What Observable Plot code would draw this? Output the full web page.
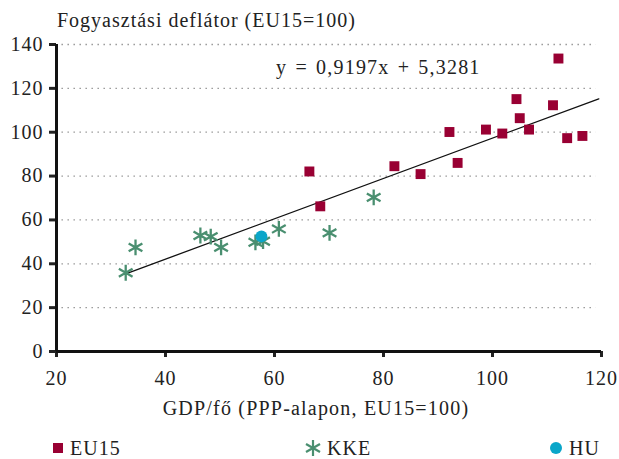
<!DOCTYPE html>
<html><head><meta charset="utf-8">
<script src="https://cdn.jsdelivr.net/npm/d3@7"></script>
<script src="https://cdn.jsdelivr.net/npm/@observablehq/plot@0.6"></script>
<style>
body{margin:0;background:#fff;font-family:"Liberation Serif",serif;color:#222;}
#wrap{position:relative;width:619px;height:459px;}
.lbl{position:absolute;white-space:nowrap;font-size:20px;line-height:1;letter-spacing:1px;}
#chart{position:absolute;left:0;top:0;}
</style></head>
<body><div id="wrap"><div id="chart"></div>
<div class="lbl" id="title" style="left:57px;top:10px;">Fogyasztási deflátor (EU15=100)</div>
<div class="lbl" id="eq" style="left:276px;top:57px;letter-spacing:1.2px;word-spacing:2px;">y = 0,9197x + 5,3281</div>
<div class="lbl" id="xlab" style="left:0;width:632px;text-align:center;top:398px;letter-spacing:1.2px;">GDP/fő (PPP-alapon, EU15=100)</div>
<div id="legend"></div>
</div>
<script>
const eu15X = [66.4, 68.4, 82.0, 86.8, 92.1, 93.6, 98.8, 101.8, 104.4, 105.0, 106.7, 111.1, 112.1, 113.7, 116.5];
const eu15Y = [82.1, 66.2, 84.5, 80.9, 100.1, 86.0, 101.2, 99.4, 115.1, 106.4, 101.2, 112.3, 133.6, 97.3, 98.3];
const kkeX = [32.7, 34.5, 46.4, 48.3, 50.2, 56.5, 57.9, 60.8, 70.1, 78.2];
const kkeY = [35.9, 47.5, 52.9, 52.4, 47.5, 49.8, 50.3, 55.9, 54.1, 70.3];
const huX = [57.6];
const huY = [52.5];
const slope = 0.9197, intercept = 5.3281;
const trendX = [32.7, 119.5];
const xTicks = [20, 40, 60, 80, 100, 120];
const yTicks = [0, 20, 40, 60, 80, 100, 120, 140];
const colors = {EU15: "#990033", KKE: "#4a8f70", HU: "#0aa6c9"};

const eu = eu15X.map((x, i) => ({x, y: eu15Y[i]}));
const kke = kkeX.map((x, i) => ({x, y: kkeY[i]}));
const hu = huX.map((x, i) => ({x, y: huY[i]}));
const trend = trendX.map(x => ({x, y: slope * x + intercept}));

const chart = Plot.plot({
  width: 619, height: 459,
  marginLeft: 56, marginRight: 18, marginTop: 44, marginBottom: 108,
  style: {fontFamily: "Liberation Serif, serif", fontSize: "20px", letterSpacing: "1px", color: "#222", background: "white"},
  x: {domain: [20, 120], ticks: xTicks},
  y: {domain: [0, 140], ticks: yTicks},
  marks: [
    Plot.ruleY(yTicks.filter(d => d > 0), {stroke: "#999", strokeDasharray: "1.5,4.5", strokeWidth: 1.3, x1: 21, x2: 119}),
    Plot.axisX({ticks: xTicks, tickSize: 6, tickPadding: 13, strokeWidth: 3, label: null, tickFormat: d => d, fill: "#222"}),
    Plot.axisY({ticks: yTicks, tickSize: 7, tickPadding: 6, strokeWidth: 3, label: null, tickFormat: d => d, fill: "#222"}),
    Plot.ruleY([0], {stroke: "#111", strokeWidth: 3}),
    Plot.ruleX([20], {stroke: "#111", strokeWidth: 3}),
    Plot.line(trend, {x: "x", y: "y", stroke: "#111", strokeWidth: 1.3}),
    Plot.dot(eu, {x: "x", y: "y", symbol: "square", r: 5.6, fill: colors.EU15, stroke: "none"}),
    Plot.dot(kke, {x: "x", y: "y", symbol: "asterisk", r: 7.5, stroke: colors.KKE, strokeWidth: 2.3}),
    Plot.dot(hu, {x: "x", y: "y", symbol: "circle", r: 6, fill: colors.HU, stroke: "none"})
  ]
});
document.getElementById("chart").appendChild(chart);

const legendItems = [
  {name: "EU15", sym: "square", left: 52},
  {name: "KKE", sym: "asterisk", left: 305},
  {name: "HU", sym: "circle", left: 549}
];
const leg = document.getElementById("legend");
for (const it of legendItems) {
  const d = document.createElement("div");
  d.className = "lbl";
  d.style.left = it.left + "px";
  d.style.top = "438px";
  d.style.display = "flex";
  d.style.alignItems = "center";
  let svg;
  if (it.sym === "square") svg = `<svg width="16" height="16"><rect x="1" y="3" width="10" height="10" fill="${colors.EU15}"/></svg>`;
  else if (it.sym === "asterisk") svg = `<svg width="20" height="18"><g stroke="${colors.KKE}" stroke-width="2.2"><line x1="8" y1="1" x2="8" y2="17"/><line x1="1" y1="5" x2="15" y2="13"/><line x1="1" y1="13" x2="15" y2="5"/></g></svg>`;
  else svg = `<svg width="18" height="16"><circle cx="7" cy="8" r="6" fill="${colors.HU}"/></svg>`;
  d.innerHTML = svg + `<span style="margin-left:2px">${it.name}</span>`;
  leg.appendChild(d);
}
</script>
</body></html>
